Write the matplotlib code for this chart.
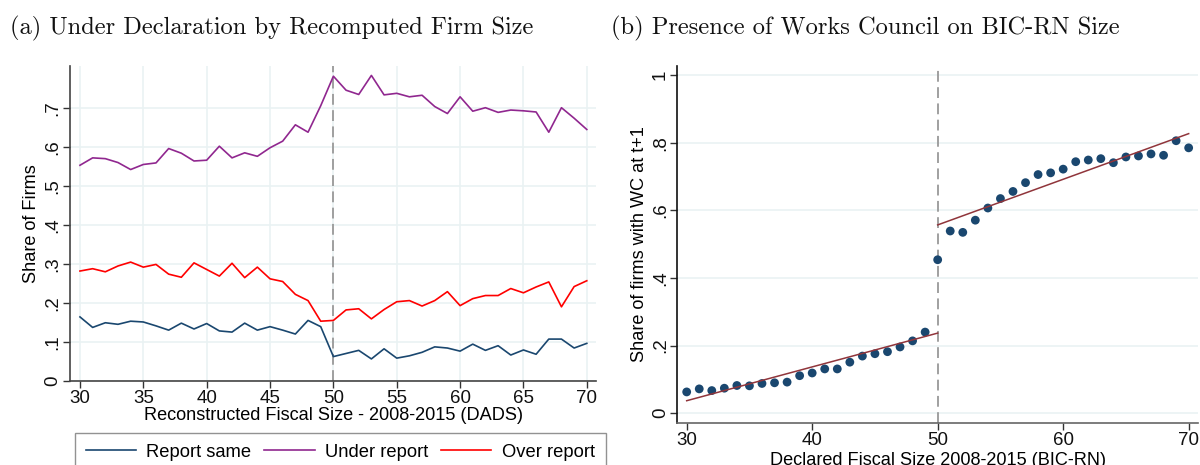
"""
firm_size_panels.py — bunching around the 50-employee threshold
Panel (a): reporting categories by recomputed firm size (DADS)
Panel (b): works council presence by declared size (BIC-RN)
"""

import numpy as np
import matplotlib.pyplot as plt

# ── DATA ──────────────────────────────────────────────────────────────────────
SIZE = list(range(30, 71))

REPORT_SAME = [0.164, 0.137, 0.149, 0.145, 0.153, 0.151, 0.141, 0.130, 0.148, 0.133,
               0.147, 0.128, 0.125, 0.148, 0.130, 0.139, 0.130, 0.120, 0.155, 0.139,
               0.062, 0.070, 0.078, 0.056, 0.082, 0.058, 0.064, 0.073, 0.087, 0.084,
               0.076, 0.094, 0.078, 0.090, 0.066, 0.079, 0.068, 0.107, 0.107, 0.084,
               0.096]
UNDER_REPORT = [0.554, 0.573, 0.571, 0.561, 0.543, 0.556, 0.560, 0.597, 0.585, 0.565,
                0.567, 0.603, 0.573, 0.586, 0.577, 0.599, 0.616, 0.658, 0.639, 0.707,
                0.783, 0.747, 0.736, 0.785, 0.735, 0.739, 0.730, 0.734, 0.705, 0.687,
                0.730, 0.693, 0.702, 0.690, 0.696, 0.694, 0.691, 0.639, 0.702, 0.675,
                0.646]
OVER_REPORT = [0.282, 0.288, 0.280, 0.295, 0.305, 0.292, 0.299, 0.274, 0.266, 0.303,
               0.286, 0.269, 0.302, 0.265, 0.292, 0.262, 0.255, 0.222, 0.206, 0.153,
               0.155, 0.182, 0.185, 0.159, 0.183, 0.203, 0.206, 0.192, 0.206, 0.229,
               0.193, 0.211, 0.219, 0.219, 0.237, 0.226, 0.241, 0.254, 0.190, 0.242,
               0.257]

WC_SHARE = [0.063, 0.072, 0.067, 0.074, 0.082, 0.081, 0.088, 0.090, 0.092, 0.111,
            0.119, 0.131, 0.131, 0.151, 0.169, 0.176, 0.182, 0.196, 0.214, 0.240,
            0.454, 0.539, 0.535, 0.571, 0.607, 0.635, 0.656, 0.682, 0.706, 0.711,
            0.722, 0.744, 0.749, 0.753, 0.741, 0.758, 0.761, 0.767, 0.763, 0.806,
            0.785]

# linear fits either side of the threshold (endpoints)
FIT_LEFT_X  = [30, 50]
FIT_LEFT_Y  = [0.037, 0.237]
FIT_RIGHT_X = [50, 70]
FIT_RIGHT_Y = [0.557, 0.827]

THRESHOLD = 50

XTICKS_A = [30, 35, 40, 45, 50, 55, 60, 65, 70]
YTICKS_A = [0, 0.1, 0.2, 0.3, 0.4, 0.5, 0.6, 0.7]
YLABS_A  = ["0", ".1", ".2", ".3", ".4", ".5", ".6", ".7"]
XTICKS_B = [30, 40, 50, 60, 70]
YTICKS_B = [0, 0.2, 0.4, 0.6, 0.8, 1]
YLABS_B  = ["0", ".2", ".4", ".6", ".8", "1"]

# ── STYLE ─────────────────────────────────────────────────────────────────────
NAVY   = "#1a476f"
PURPLE = "#90278f"
RED    = "#ff0000"
MAROON = "#90353b"
GRID   = "#eaf2f3"
DASH   = "#999999"

plt.rcParams['font.family'] = ['Liberation Sans', 'DejaVu Sans']
plt.rcParams['font.size'] = 13


def style_axes(ax, spine_color):
    for side in ("top", "right"):
        ax.spines[side].set_visible(False)
    for side in ("left", "bottom"):
        ax.spines[side].set_color(spine_color)
        ax.spines[side].set_linewidth(1.2)
    ax.tick_params(axis="both", length=5, width=1.0, color="#333333",
                   labelsize=13.5, labelcolor="#111111")
    ax.tick_params(axis="x", pad=2)
    ax.tick_params(axis="y", labelrotation=90, pad=1)
    for lab in ax.get_yticklabels():
        lab.set_va("center")
    ax.set_axisbelow(True)


# ── PLOT ──────────────────────────────────────────────────────────────────────
fig = plt.figure(figsize=(12, 4.65), dpi=100)

# (a) reporting categories
ax1 = fig.add_axes([0.0583, 0.1813, 0.4384, 0.6774])
ax1.grid(True, color=GRID, linewidth=1.2)
ax1.axvline(THRESHOLD, color=DASH, linestyle=(0, (6, 3)), linewidth=1.3, zorder=1)
l1, = ax1.plot(SIZE, REPORT_SAME, color=NAVY, linewidth=1.2, label="Report same")
l2, = ax1.plot(SIZE, UNDER_REPORT, color=PURPLE, linewidth=1.2, label="Under report")
l3, = ax1.plot(SIZE, OVER_REPORT, color=RED, linewidth=1.2, label="Over report")
ax1.set_xlim(29.21, 70.73)
ax1.set_ylim(0, 0.81)
ax1.set_xticks(XTICKS_A)
ax1.set_yticks(YTICKS_A)
ax1.set_yticklabels(YLABS_A)
ax1.set_xlabel("Reconstructed Fiscal Size - 2008-2015 (DADS)", fontsize=13.1, labelpad=0)
ax1.set_ylabel("Share of Firms", fontsize=13.1, labelpad=3)
style_axes(ax1, "#444444")

fig.legend(handles=[l1, l2, l3], ncol=3, loc="upper left",
           bbox_to_anchor=(0.0625, 0.069), fontsize=13.2, frameon=True,
           fancybox=False, edgecolor="#777777", handlelength=2.75,
           handletextpad=0.55, columnspacing=0.7, borderpad=0.6,
           borderaxespad=0)

# (b) works council
ax2 = fig.add_axes([0.5644, 0.091, 0.434, 0.767])
ax2.grid(True, axis="y", color=GRID, linewidth=1.2)
ax2.axvline(THRESHOLD, color=DASH, linestyle=(0, (6, 3)), linewidth=1.3, zorder=1)
ax2.scatter(SIZE, WC_SHARE, s=40, color=NAVY, edgecolors="none", zorder=3)
ax2.plot(FIT_LEFT_X, FIT_LEFT_Y, color=MAROON, linewidth=1.1, zorder=4)
ax2.plot(FIT_RIGHT_X, FIT_RIGHT_Y, color=MAROON, linewidth=1.1, zorder=4)
ax2.set_xlim(29.25, 70.75)
ax2.set_ylim(-0.028, 1.027)
ax2.set_xticks(XTICKS_B)
ax2.set_yticks(YTICKS_B)
ax2.set_yticklabels(YLABS_B)
ax2.set_xlabel("Declared Fiscal Size 2008-2015 (BIC-RN)", fontsize=13.1, labelpad=2)
ax2.set_ylabel("Share of firms with WC at t+1", fontsize=13.1, labelpad=3)
style_axes(ax2, "#111111")
ax2.spines["bottom"].set_color("#666666")

# panel titles
fig.text(0.008, 0.925, "(a) Under Declaration by Recomputed Firm Size",
         family="cmr10", fontsize=17.6, color="#111111")
fig.text(0.509, 0.925, "(b) Presence of Works Council on BIC-RN Size",
         family="cmr10", fontsize=17.6, color="#111111")

fig.savefig("out.png", dpi=100)
plt.close(fig)
